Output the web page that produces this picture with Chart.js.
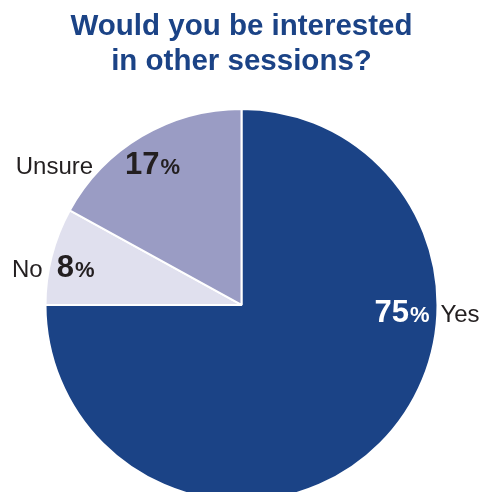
<!DOCTYPE html>
<html><head><meta charset="utf-8">
<script src="https://cdn.jsdelivr.net/npm/chart.js@4"></script>
<style>html,body{margin:0;padding:0;background:#fff;overflow:hidden}</style>
</head><body>
<canvas id="c" width="483" height="492"></canvas>
<script>
// ---- data ----
const categories = ['Yes', 'No', 'Unsure'];
const values = [75, 8, 17];
const titleLines = ['Would you be interested', 'in other sessions?'];

// ---- styles ----
const sliceColors = ['#1b4386', '#e0e0ee', '#9a9cc4'];
const FONT = '"Liberation Sans", Arial, Helvetica, sans-serif';

const labelPlugin = {
  id: 'sliceLabels',
  afterDatasetsDraw(chart, args, opts) {
    const ctx = chart.ctx;
    const meta = chart.getDatasetMeta(0);
    const data = chart.data.datasets[0].data;
    const total = data.reduce((a, b) => a + b, 0);
    meta.data.forEach((arc, i) => {
      const spot = opts.spots[i];
      const p = arc.getProps(['x', 'y', 'outerRadius'], true);
      const a = spot.angle * Math.PI / 180;
      const px = p.x + Math.sin(a) * spot.f * p.outerRadius;
      const py = p.y - Math.cos(a) * spot.f * p.outerRadius;
      const num = String(Math.round(data[i] / total * 100));
      ctx.save();
      ctx.textBaseline = 'alphabetic';
      ctx.textAlign = 'left';
      ctx.font = 'bold ' + opts.numSize + 'px ' + FONT;
      const dw = ctx.measureText(num).width;
      ctx.font = 'bold ' + opts.pctSize + 'px ' + FONT;
      const pw = ctx.measureText('%').width;
      const w = dw + 1 + pw;
      const start = spot.align === 'right' ? px - w : px;
      ctx.fillStyle = spot.color;
      ctx.font = 'bold ' + opts.numSize + 'px ' + FONT;
      ctx.fillText(num, start, py);
      ctx.font = 'bold ' + opts.pctSize + 'px ' + FONT;
      ctx.fillText('%', start + dw + 1, py);
      ctx.fillStyle = opts.nameColor;
      ctx.font = opts.nameSize + 'px ' + FONT;
      if (spot.nameSide === 'after') {
        ctx.textAlign = 'left';
        ctx.fillText(chart.data.labels[i], start + w + spot.gap, py);
      } else {
        ctx.textAlign = 'right';
        ctx.fillText(chart.data.labels[i], start - spot.gap, py);
      }
      ctx.restore();
    });
  }
};

new Chart(document.getElementById('c'), {
  type: 'pie',
  data: {
    labels: categories,
    datasets: [{
      data: values,
      backgroundColor: sliceColors,
      borderColor: '#ffffff',
      borderWidth: 2,
      radius: 196,
      clip: false
    }]
  },
  options: {
    responsive: false,
    animation: false,
    devicePixelRatio: 1,
    layout: { padding: 0 },
    plugins: {
      legend: { display: false },
      tooltip: { enabled: false },
      title: {
        display: true,
        text: titleLines,
        color: '#1b4386',
        font: { family: FONT, size: 29.5, weight: 'bold', lineHeight: 1.2 },
        padding: { top: 9, bottom: 38 }
      },
      sliceLabels: {
        numSize: 31, pctSize: 22, nameSize: 24, nameColor: '#231f20',
        spots: [
          { angle: 95.2, f: 0.963, align: 'right', nameSide: 'after', gap: 11, color: '#ffffff' },
          { angle: 278.7, f: 0.954, align: 'left', nameSide: 'before', gap: 14, color: '#231f20' },
          { angle: 318.3, f: 0.893, align: 'left', nameSide: 'before', gap: 32, color: '#231f20' }
        ]
      }
    }
  },
  plugins: [labelPlugin]
});
</script>
</body></html>
